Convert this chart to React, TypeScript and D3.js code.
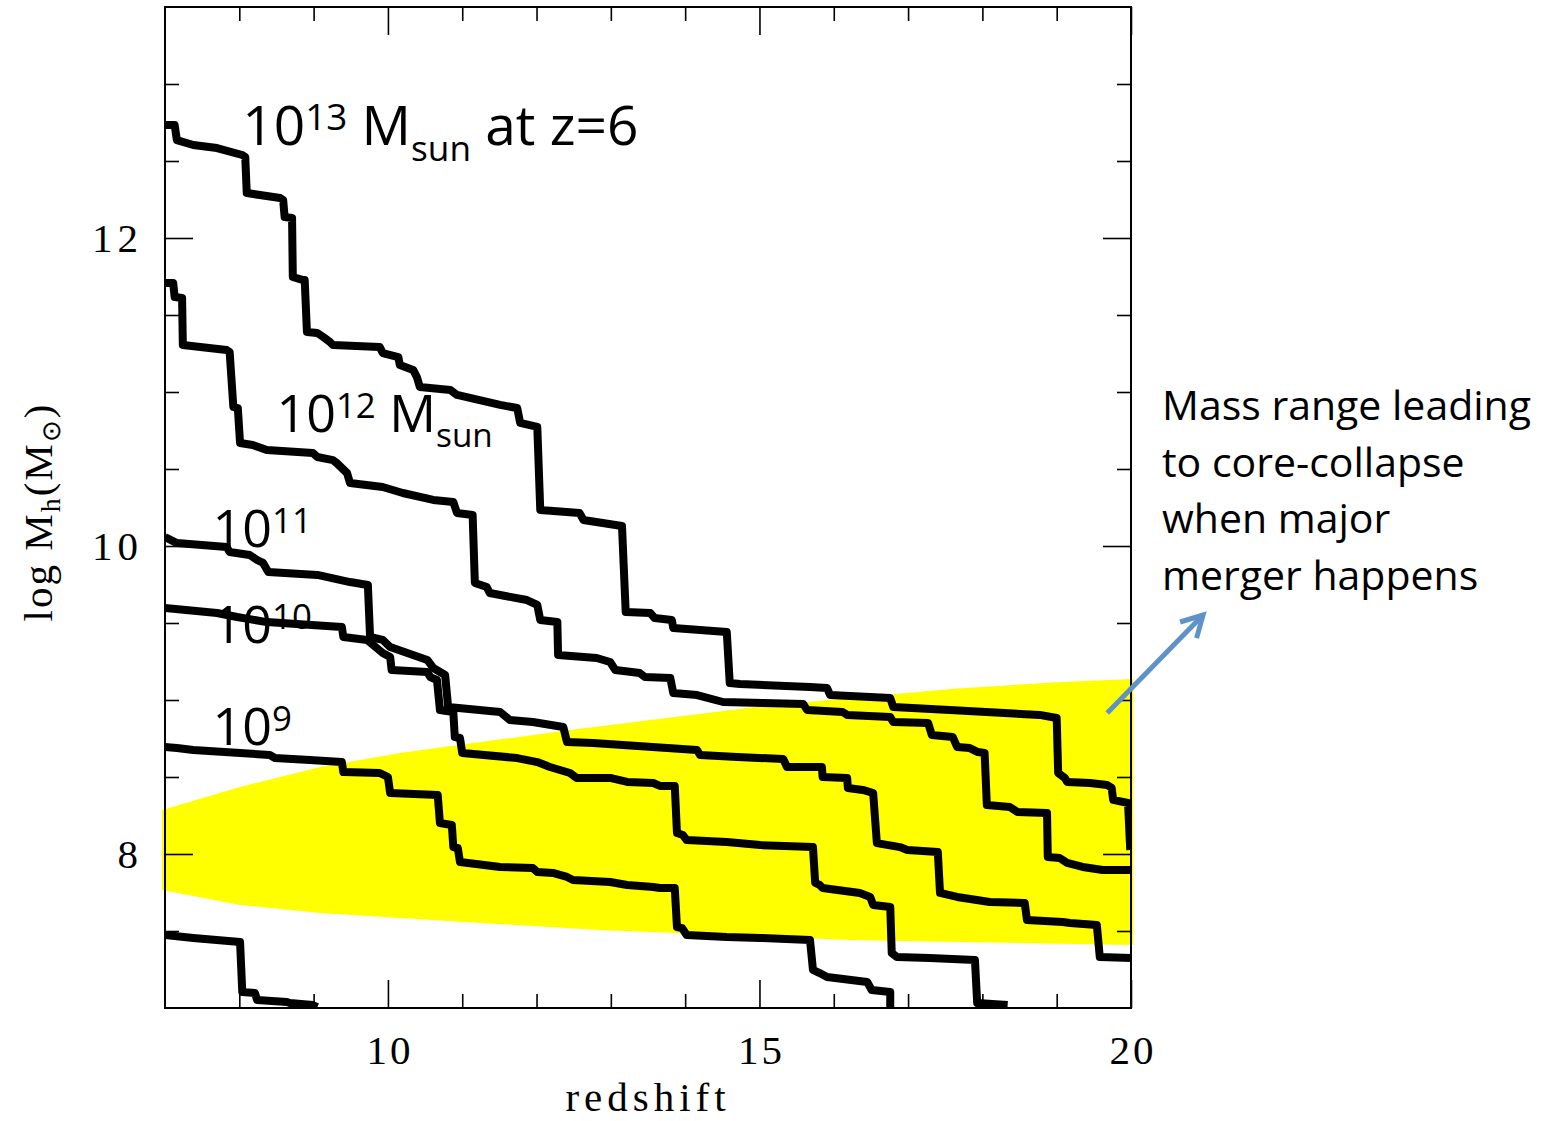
import { useEffect, useRef } from "react";
import * as d3 from "d3";

type Point = [number, number];

// main-branch mass histories, [redshift, log Mh]
const branch13: Point[] = [
  [7.0, 12.734], [7.13, 12.734], [7.16, 12.636], [7.38, 12.604], [7.7, 12.584],
  [8.04, 12.539], [8.08, 12.526], [8.1, 12.292], [8.55, 12.26], [8.59, 12.247],
  [8.61, 12.136], [8.71, 12.13], [8.72, 11.747], [8.86, 11.727], [8.88, 11.727],
  [8.91, 11.39], [9.05, 11.383], [9.13, 11.357], [9.22, 11.325], [9.26, 11.305],
  [9.89, 11.292], [9.93, 11.253], [10.14, 11.227], [10.16, 11.175], [10.34, 11.143],
  [10.39, 11.097], [10.43, 11.032], [10.84, 11.013], [10.93, 10.981], [11.51, 10.916],
  [11.74, 10.896], [11.78, 10.799], [12.01, 10.773], [12.05, 10.234], [12.58, 10.214],
  [12.63, 10.169], [13.15, 10.13], [13.2, 9.571], [13.53, 9.565], [13.59, 9.532],
  [13.82, 9.519], [13.84, 9.468], [14.56, 9.442], [14.6, 9.11], [14.74, 9.104],
  [15.68, 9.084], [15.91, 9.078], [15.95, 9.032], [16.76, 9.013], [16.8, 8.955],
  [17.56, 8.935], [18.77, 8.903], [19.0, 8.883], [19.02, 8.526], [19.11, 8.494],
  [19.14, 8.468], [19.45, 8.461], [19.68, 8.448], [19.74, 8.429], [19.76, 8.351],
  [19.96, 8.331], [19.99, 8.026],
];

const branch12: Point[] = [
  [7.0, 11.708], [7.11, 11.708], [7.13, 11.617], [7.23, 11.61], [7.24, 11.305],
  [7.83, 11.273], [7.87, 11.26], [7.92, 10.903], [7.98, 10.896], [8.01, 10.669],
  [8.18, 10.656], [8.37, 10.623], [8.99, 10.604], [9.05, 10.578], [9.26, 10.558],
  [9.31, 10.539], [9.45, 10.474], [9.49, 10.409], [9.93, 10.383], [10.2, 10.344],
  [10.61, 10.299], [10.88, 10.286], [10.93, 10.214], [11.14, 10.201], [11.17, 9.76],
  [11.33, 9.734], [11.37, 9.695], [11.87, 9.649], [12.01, 9.617], [12.05, 9.519],
  [12.28, 9.506], [12.29, 9.292], [12.81, 9.273], [12.99, 9.247], [13.06, 9.195],
  [13.39, 9.175], [13.46, 9.149], [13.8, 9.143], [13.84, 9.045], [14.16, 9.032],
  [14.51, 8.987], [15.05, 8.981], [15.59, 8.974], [15.64, 8.935], [16.12, 8.922],
  [16.18, 8.903], [16.76, 8.89], [16.8, 8.857], [17.27, 8.851], [17.32, 8.773],
  [17.6, 8.76], [17.66, 8.695], [17.83, 8.688], [17.94, 8.662], [18.03, 8.656],
  [18.06, 8.318], [18.37, 8.305], [18.47, 8.273], [18.87, 8.266], [18.88, 7.981],
  [19.04, 7.974], [19.14, 7.942], [19.35, 7.916], [19.62, 7.896], [20.0, 7.896],
];

const branch11: Point[] = [
  [7.0, 10.058], [7.16, 10.019], [7.83, 9.994], [7.87, 9.961], [8.14, 9.942],
  [8.24, 9.909], [8.32, 9.89], [8.39, 9.831], [9.05, 9.812], [9.49, 9.766],
  [9.73, 9.747], [9.76, 9.409], [9.93, 9.39], [10.03, 9.344], [10.53, 9.26],
  [10.61, 9.208], [10.77, 9.162], [10.81, 8.955], [11.51, 8.922], [11.64, 8.87],
  [11.95, 8.857], [12.36, 8.825], [12.41, 8.727], [12.76, 8.721], [14.16, 8.675],
  [14.2, 8.643], [14.7, 8.63], [15.32, 8.617], [15.37, 8.565], [15.84, 8.565],
  [15.85, 8.5], [16.18, 8.494], [16.19, 8.429], [16.39, 8.416], [16.53, 8.396],
  [16.58, 8.071], [16.89, 8.045], [16.99, 8.026], [17.4, 8.013], [17.43, 7.747],
  [17.66, 7.721], [18.1, 7.688], [18.57, 7.682], [18.6, 7.571], [19.08, 7.558],
  [19.18, 7.552], [19.54, 7.539], [19.58, 7.331], [20.0, 7.325],
];

const branch10: Point[] = [
  [7.0, 9.597], [7.7, 9.565], [7.97, 9.539], [8.37, 9.506], [9.38, 9.474],
  [9.4, 9.409], [9.72, 9.39], [9.93, 9.305], [10.03, 9.279], [10.05, 9.195],
  [10.53, 9.182], [10.57, 9.149], [10.66, 9.13], [10.7, 8.935], [10.88, 8.922],
  [10.9, 8.76], [10.97, 8.753], [11.0, 8.656], [11.74, 8.623], [12.01, 8.597],
  [12.18, 8.565], [12.45, 8.526], [12.54, 8.494], [12.99, 8.494], [13.22, 8.468],
  [13.57, 8.461], [13.66, 8.442], [13.86, 8.442], [13.89, 8.136], [13.97, 8.123],
  [14.02, 8.091], [14.56, 8.078], [15.01, 8.058], [15.72, 8.045], [15.75, 7.812],
  [15.81, 7.799], [15.85, 7.779], [16.35, 7.747], [16.49, 7.721], [16.53, 7.669],
  [16.76, 7.656], [16.78, 7.357], [16.85, 7.331], [17.29, 7.325], [17.9, 7.312],
  [17.93, 7.032], [18.34, 7.019],
];

const branch9: Point[] = [
  [7.0, 8.695], [7.16, 8.688], [7.38, 8.675], [8.01, 8.656], [8.41, 8.643],
  [8.48, 8.623], [8.95, 8.61], [9.38, 8.597], [9.4, 8.532], [9.89, 8.526],
  [10.0, 8.5], [10.03, 8.396], [10.67, 8.383], [10.7, 8.201], [10.86, 8.188],
  [10.88, 8.045], [10.94, 8.039], [10.97, 7.948], [11.51, 7.916], [11.95, 7.909],
  [12.01, 7.883], [12.22, 7.877], [12.41, 7.851], [12.49, 7.831], [12.99, 7.818],
  [13.22, 7.799], [13.57, 7.786], [13.66, 7.779], [13.86, 7.779], [13.89, 7.526],
  [13.96, 7.519], [14.02, 7.474], [14.56, 7.461], [15.01, 7.455], [15.68, 7.442],
  [15.72, 7.247], [15.81, 7.227], [15.91, 7.201], [16.45, 7.169], [16.51, 7.117],
  [16.76, 7.104], [16.76, 6.99],
];

const branch8: Point[] = [
  [7.0, 7.474], [7.38, 7.455], [8.01, 7.429], [8.04, 7.104], [8.21, 7.097],
  [8.24, 7.052], [8.64, 7.039], [8.68, 7.032], [8.99, 7.019], [9.05, 7.006],
];

const branches = [branch13, branch12, branch11, branch10, branch9, branch8];

// mass range leading to core-collapse (yellow region)
const collapseUpper: Point[] = [
  [6.96, 8.286], [8.01, 8.435], [9.09, 8.565], [10.16, 8.656], [12.45, 8.805],
  [15.05, 8.961], [17.57, 9.071], [19.05, 9.117], [20.03, 9.136],
];
const collapseLower: Point[] = [
  [6.96, 7.766], [8.01, 7.669], [9.09, 7.617], [10.16, 7.584], [12.85, 7.506],
  [16.21, 7.442], [20.03, 7.409],
];

const xMajorTicks = [10, 15, 20];
const xMinorTicks = [8, 9, 11, 12, 13, 14, 16, 17, 18, 19];
const yMajorTicks = [8, 10, 12];
const yMinorTicks = [7.5, 8.5, 9, 9.5, 10.5, 11, 11.5, 12.5, 13];

const noteLines = [
  "Mass range leading",
  "to core-collapse",
  "when major",
  "merger happens",
];

const width = 1557;
const height = 1121;
const margin = { left: 165, top: 7, right: 426, bottom: 113 };

const serif = "'Liberation Serif', 'Times New Roman', serif";
const sans = "'Open Sans', 'Noto Sans', sans-serif";

const App = () => {
  const svgRef = useRef<SVGSVGElement | null>(null);

  useEffect(() => {
    if (!svgRef.current) {
      return;
    }

    const svg = d3.select(svgRef.current);
    svg.selectAll("*").remove();

    const innerWidth = width - margin.left - margin.right;
    const innerHeight = height - margin.top - margin.bottom;

    const xScale = d3.scaleLinear().domain([7, 20]).range([0, innerWidth]);
    const yScale = d3.scaleLinear().domain([7, 13.5]).range([innerHeight, 0]);

    svg
      .append("defs")
      .append("clipPath")
      .attr("id", "plot-clip")
      .append("rect")
      .attr("width", innerWidth)
      .attr("height", innerHeight);

    const g = svg
      .append("g")
      .attr("transform", `translate(${margin.left},${margin.top})`);

    // yellow band
    const bandLine = d3
      .line<Point>()
      .x((d) => xScale(d[0]))
      .y((d) => yScale(d[1]))
      .curve(d3.curveLinearClosed);
    g.append("path")
      .attr("d", bandLine([...collapseUpper, ...collapseLower.slice().reverse()]))
      .attr("fill", "#ffff00");

    // ticks on all four sides, pointing inward
    const styleTicks = (sel: d3.Selection<SVGGElement, unknown, null, undefined>) => {
      sel.select(".domain").remove();
      sel.selectAll(".tick line").attr("stroke", "#000").attr("stroke-width", 1.6);
    };

    const noLabel = () => "";

    g.append("g")
      .attr("transform", `translate(0,${innerHeight})`)
      .call(d3.axisBottom(xScale).tickValues(xMinorTicks).tickSize(-14).tickFormat(noLabel))
      .call(styleTicks);
    g.append("g")
      .attr("transform", `translate(0,${innerHeight})`)
      .call(
        d3
          .axisBottom(xScale)
          .tickValues(xMajorTicks)
          .tickSize(-28)
          .tickPadding(27)
          .tickFormat(d3.format("d")),
      )
      .call(styleTicks)
      .call((a) =>
        a
          .selectAll("text")
          .attr("font-family", serif)
          .attr("font-size", 41)
          .attr("letter-spacing", 3)
          .attr("dx", 1.5)
          .attr("fill", "#000"),
      );
    g.append("g")
      .call(d3.axisTop(xScale).tickValues(xMinorTicks).tickSize(-14).tickFormat(noLabel))
      .call(styleTicks);
    g.append("g")
      .call(d3.axisTop(xScale).tickValues(xMajorTicks).tickSize(-28).tickFormat(noLabel))
      .call(styleTicks);

    g.append("g")
      .call(d3.axisLeft(yScale).tickValues(yMinorTicks).tickSize(-14).tickFormat(noLabel))
      .call(styleTicks);
    g.append("g")
      .call(
        d3
          .axisLeft(yScale)
          .tickValues(yMajorTicks)
          .tickSize(-28)
          .tickPadding(22)
          .tickFormat(d3.format("d")),
      )
      .call(styleTicks)
      .call((a) =>
        a
          .selectAll("text")
          .attr("font-family", serif)
          .attr("font-size", 41)
          .attr("letter-spacing", 5)
          .attr("fill", "#000"),
      );
    g.append("g")
      .attr("transform", `translate(${innerWidth},0)`)
      .call(d3.axisRight(yScale).tickValues(yMinorTicks).tickSize(-14).tickFormat(noLabel))
      .call(styleTicks);
    g.append("g")
      .attr("transform", `translate(${innerWidth},0)`)
      .call(d3.axisRight(yScale).tickValues(yMajorTicks).tickSize(-28).tickFormat(noLabel))
      .call(styleTicks);

    // frame
    g.append("rect")
      .attr("width", innerWidth)
      .attr("height", innerHeight)
      .attr("fill", "none")
      .attr("stroke", "#000")
      .attr("stroke-width", 2);

    // branches
    const branchLine = d3
      .line<Point>()
      .x((d) => xScale(d[0]))
      .y((d) => yScale(d[1]));
    g.append("g")
      .attr("clip-path", "url(#plot-clip)")
      .selectAll("path")
      .data(branches)
      .enter()
      .append("path")
      .attr("d", (d) => branchLine(d))
      .attr("fill", "none")
      .attr("stroke", "#000")
      .attr("stroke-width", 8)
      .attr("stroke-linejoin", "round");

    // axis titles
    svg
      .append("text")
      .attr("x", 648)
      .attr("y", 1111)
      .attr("text-anchor", "middle")
      .attr("font-family", serif)
      .attr("font-size", 41)
      .attr("letter-spacing", 5)
      .text("redshift");

    const yTitle = svg
      .append("text")
      .attr("transform", "translate(52,512) rotate(-90)")
      .attr("text-anchor", "middle")
      .attr("font-family", serif)
      .attr("font-size", 41)
      .attr("letter-spacing", 2);
    yTitle.append("tspan").text("log M");
    yTitle.append("tspan").attr("font-size", 28).attr("dy", 8).text("h");
    yTitle.append("tspan").attr("dy", -8).text("(M");
    yTitle.append("tspan").attr("font-size", 26).attr("dy", 8).text("\u2299");
    yTitle.append("tspan").attr("dy", -8).text(")");

    // mass labels
    const massLabel = (
      z: number,
      m: number,
      size: number,
      exp: string,
      unit: boolean,
      tail: string,
    ) => {
      const t = g
        .append("text")
        .attr("x", xScale(z))
        .attr("y", yScale(m))
        .attr("font-family", sans)
        .attr("font-size", size)
        .attr("fill", "#000");
      t.append("tspan").text("10");
      t.append("tspan")
        .attr("font-size", size * 0.67)
        .attr("dy", -size * 0.27)
        .text(exp);
      if (unit) {
        t.append("tspan").attr("dy", size * 0.27).text(" M");
        t.append("tspan")
          .attr("font-size", size * 0.64)
          .attr("dy", size * 0.3)
          .text("sun");
        t.append("tspan").attr("dy", -size * 0.3).text(tail);
      }
    };
    massLabel(8.04, 12.604, 55, "13", true, " at z=6");
    massLabel(8.5, 10.741, 52, "12", true, "");
    massLabel(7.64, 9.994, 52, "11", false, "");
    massLabel(7.64, 9.37, 52, "10", false, "");
    massLabel(7.64, 8.708, 52, "9", false, "");

    // note and arrow
    const note = svg
      .append("text")
      .attr("font-family", sans)
      .attr("font-size", 41)
      .attr("fill", "#000");
    noteLines.forEach((line, i) => {
      note
        .append("tspan")
        .attr("x", 1162)
        .attr("y", 420 + i * 56.7)
        .text(line);
    });

    const tail: Point = [19.68, 8.916];
    const tip: Point = [20.97, 9.552];
    const tx = margin.left + xScale(tip[0]);
    const ty = margin.top + yScale(tip[1]);
    const sx = margin.left + xScale(tail[0]);
    const sy = margin.top + yScale(tail[1]);
    const ang = Math.atan2(ty - sy, tx - sx);
    const head = 24;
    const spread = 0.5;
    const arrow = svg
      .append("g")
      .attr("stroke", "#5f92c9")
      .attr("stroke-width", 5)
      .attr("stroke-linecap", "butt")
      .attr("fill", "none");
    arrow.append("line").attr("x1", sx).attr("y1", sy).attr("x2", tx).attr("y2", ty);
    arrow
      .append("path")
      .attr(
        "d",
        `M${tx - head * Math.cos(ang - spread)},${ty - head * Math.sin(ang - spread)}` +
          `L${tx},${ty}` +
          `L${tx - head * Math.cos(ang + spread)},${ty - head * Math.sin(ang + spread)}`,
      )
      .attr("stroke-linejoin", "miter");
  }, []);

  return (
    <svg
      ref={svgRef}
      width={width}
      height={height}
      style={{ position: "absolute", left: 0, top: 0, background: "#fff" }}
    />
  );
};

export default App;
